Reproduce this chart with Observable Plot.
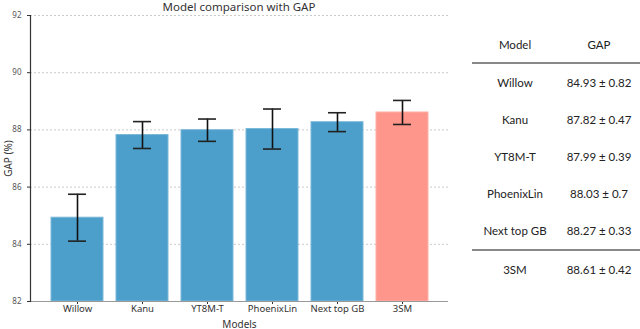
<!DOCTYPE html>
<html>
<head>
<meta charset="utf-8">
<script src="https://cdn.jsdelivr.net/npm/d3@7"></script>
<script src="https://cdn.jsdelivr.net/npm/@observablehq/plot@0.6"></script>
<style>
  body { margin: 0; background: #fff; }
  #wrap { position: relative; width: 640px; height: 329px; display: flex; }
  #chart { width: 460px; height: 329px; position: relative; }
  #title { position: absolute; left: 30px; width: 418px; top: 1px; line-height: 12px; text-align: center;
           font-family: "Noto Sans", sans-serif; font-size: 11.5px; color: #333; }
  #table { position: absolute; left: 472px; top: 26px; width: 168px;
           font: 11.5px Lato, "Open Sans", sans-serif; color: #222; }
  .row { display: flex; height: 37px; align-items: center; }
  .row div { text-align: center; }
  .c1 { width: 86px; } .c2 { width: 82px; }
  .hdr { height: 36px; border-bottom: 2px solid #888; }
  .sep { border-bottom: 2px solid #888; }
</style>
</head>
<body>
<div id="wrap">
  <div id="chart"><div id="title">Model comparison with GAP</div></div>
  <div id="table"></div>
</div>
<script>
const models = ["Willow", "Kanu", "YT8M-T", "PhoenixLin", "Next top GB", "3SM"];
const gap = [84.93, 87.82, 87.99, 88.03, 88.27, 88.61];
const err = [0.82, 0.47, 0.39, 0.7, 0.33, 0.42];
const yTicks = [82, 84, 86, 88, 90, 92];
const tableHeader = ["Model", "GAP"];

const data = models.map((m, i) => ({model: m, gap: gap[i], lo: gap[i] - err[i], hi: gap[i] + err[i], hl: m === "3SM"}));

const chart = Plot.plot({
  width: 460,
  height: 329,
  marginLeft: 30,
  marginRight: 12,
  marginTop: 15,
  marginBottom: 28,
  style: {fontFamily: "'Noto Sans', sans-serif", fontSize: "9px", color: "#333", background: "transparent"},
  x: {domain: models, paddingInner: 0.2, paddingOuter: 0.295},
  y: {domain: [82, 92]},
  marks: [
    Plot.gridY(yTicks, {stroke: "#bbb", strokeOpacity: 1, strokeDasharray: "2,2", strokeWidth: 0.8}),
    Plot.barY(data, {x: "model", y1: 82, y2: "gap", fill: d => d.hl ? "#ff968b" : "#4b9fca",
      stroke: d => d.hl ? "#ffb2aa" : "#7cb8da", strokeWidth: 1}),
    Plot.ruleX(data, {x: "model", y1: "lo", y2: "hi", stroke: "#111", strokeWidth: 1.6}),
    Plot.tickY(data, {x: "model", y: "lo", stroke: "#222", strokeWidth: 1.6, insetLeft: 17, insetRight: 17}),
    Plot.tickY(data, {x: "model", y: "hi", stroke: "#222", strokeWidth: 1.6, insetLeft: 17, insetRight: 17}),
    Plot.axisY({ticks: yTicks, tickSize: 3, fontSize: 8, fill: "#555", label: null, tickFormat: d => d}),
    Plot.axisY({ticks: [], label: "GAP (%)", labelAnchor: "center", labelArrow: false, labelOffset: 26, fontSize: 10, fill: "#333"}),
    Plot.axisX({tickSize: 3, tickPadding: 1, fontSize: 9.5, fill: "#333", label: null}),
    Plot.axisX({ticks: [], label: "Models", labelAnchor: "center", labelArrow: false, labelOffset: 26, fontSize: 10, fill: "#333"}),
    Plot.ruleY([82], {stroke: "#999"}),
    Plot.frame({anchor: "left", stroke: "#333", strokeWidth: 1.2})
  ]
});
document.getElementById("chart").appendChild(chart);

const tbl = document.getElementById("table");
let html = `<div class="row hdr"><div class="c1">${tableHeader[0]}</div><div class="c2">${tableHeader[1]}</div></div>`;
models.forEach((m, i) => {
  const cls = i === models.length - 2 ? "row sep" : "row";
  html += `<div class="${cls}"><div class="c1">${m}</div><div class="c2">${gap[i].toFixed(2)} ± ${err[i]}</div></div>`;
});
tbl.innerHTML = html;
</script>
</body>
</html>
